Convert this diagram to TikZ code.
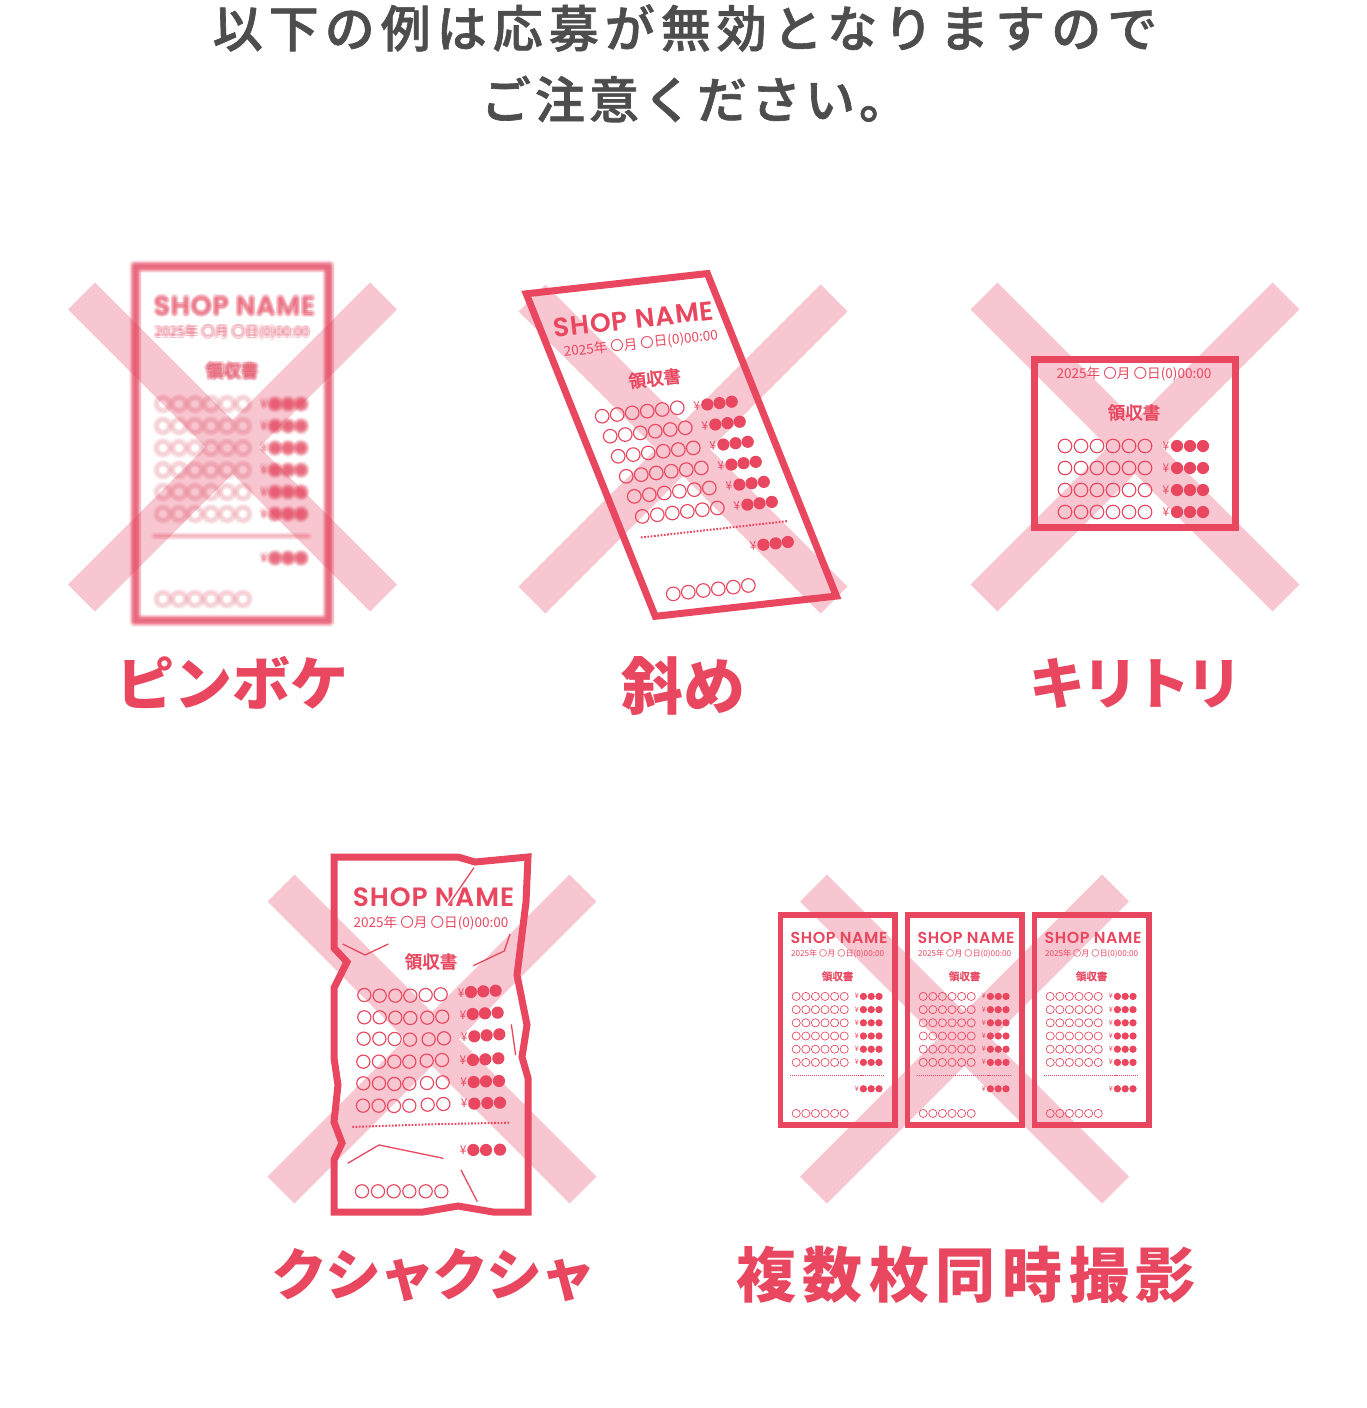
\documentclass[tikz,border=0pt]{standalone}
\usepackage{fontspec}
\setmainfont{Noto Sans CJK JP}
\newfontfamily\jp{Noto Sans CJK JP}
\newfontfamily\jpm{Noto Sans CJK JP Medium}[FakeBold=1.3]
\newfontfamily\shopf{Poppins SemiBold}
\definecolor{rred}{HTML}{E8475F}
\definecolor{xpink}{HTML}{F7C6D0}
\definecolor{tgray}{HTML}{4D4D4D}
\def\rs{1}\def\rr{0}\def\rlw{1.15}
\tikzset{
  xband/.style={draw=xpink,line width=38pt,line cap=butt},
  rbox/.style={draw=rred,line join=miter,fill=none},
  rthin/.style={draw=rred,line width=1.15pt},
  rcrease/.style={draw=rred,line width=1.3pt},
  rtext/.style={text=rred,inner sep=0pt,rotate=\rr,scale=\rs,transform shape},
  rlabel/.style={text=rred,inner sep=0pt,font=\jp\bfseries},
  headline/.style={text=tgray,inner sep=0pt},
}
\newcommand\bigx[2]{%
  \draw[xband] (#1-151,#2-151) -- (#1+151,#2+151);
  \draw[xband] (#1-151,#2+151) -- (#1+151,#2-151);}
\newcommand\rshop{\node[rtext,font=\shopf\fontsize{26.5}{26.5}\selectfont\addfontfeature{LetterSpace=3.5}] at (102.5,43) {SHOP NAME};}
\newcommand\rdate{\node[rtext,font=\jp\fontsize{13.6}{13.6}\selectfont] at (100,69.5) {2025年 〇月 〇日(0)00:00};}
\newcommand\rtitle{\node[rtext,font=\jpm\fontsize{17.5}{17.5}\selectfont] at (100,107.5) {領収書};}
\newcommand\rcircs[1]{\foreach \cx in {31,47,63,79,95,111}{\draw[draw=rred,line width=\rlw pt*\rs] (\cx,#1) circle[radius=6.8pt*\rs];}}
\newcommand\rdotsonly[1]{\foreach \cx in {143,156,169}{\fill[rred] (\cx,#1) circle[radius=6.1pt*\rs];}}
\newcommand\ryen[1]{\node[rtext,font=\jp\fontsize{12}{12}\selectfont] at (132,#1) {¥};}
\newcommand\rdots[1]{\ryen{#1}\rdotsonly{#1}}
\newcommand\rrow[1]{\rcircs{#1}\rdots{#1}}
\newcommand\rsep{\draw[rred,line width=2pt*\rs,dash pattern=on 1.7pt*\rs off 1.6pt*\rs] (21,273) -- (178,273);}
\newcommand\rcontent{%
  \rshop\rdate\rtitle
  \rrow{141}\rrow{163}\rrow{185}\rrow{207}\rrow{229}\rrow{251}
  \rsep
  \rdots{295}
  \rcircs{336}}
\begin{document}
\begin{tikzpicture}[x=1pt,y=-1pt]
\useasboundingbox[fill=white] (0,0) rectangle (1367,1408);
% headline
\node[headline,font=\jpm\fontsize{50}{50}\selectfont\addfontfeature{LetterSpace=12}] (head1) at (685,28) {以下の例は応募が無効となりますので};
\node[headline,font=\jpm\fontsize{50}{50}\selectfont\addfontfeature{LetterSpace=8}] (head2) at (695,99) {ご注意ください。};
% crosses
\bigx{232.5}{447}\bigx{683}{449}\bigx{1135}{447}\bigx{432}{1039}\bigx{964.5}{1039}
% panel 1: out of focus, shapes
\foreach \dx/\dy in {0/0,1.5/0,-1.5/0,0/1.5,0/-1.5,1.1/1.1,-1.1/1.1,1.1/-1.1,-1.1/-1.1,3/0,-3/0,0/3,0/-3,2.1/2.1,-2.1/2.1,2.1/-2.1,-2.1/-2.1}{
  \begin{scope}[shift={(132+\dx,263+\dy)},opacity=.085]
    \draw[rbox,line width=7pt] (3.5,3.5) rectangle (196.5,357.5);
    \foreach \ry in {141,163,185,207,229,251,295}{\rdotsonly{\ry}}
  \end{scope}
  \begin{scope}[shift={(132+\dx,263+\dy)},opacity=.06]
    \def\rlw{1.1}
    \foreach \ry in {141,163,185,207,229,251,336}{\rcircs{\ry}}
    \draw[rred,line width=2pt] (21,273) -- (178,273);
  \end{scope}}
% panel 1: out of focus, texts
\foreach \dx/\dy in {0/0,1.8/0,-1.8/0,0/1.8,0/-1.8,1.3/1.3,-1.3/1.3,1.3/-1.3,-1.3/-1.3}{
  \begin{scope}[shift={(132+\dx,263+\dy)},opacity=.15]
    \rshop\rdate\rtitle
    \foreach \ry in {141,163,185,207,229,251,295}{\ryen{\ry}}
  \end{scope}}
% panel 2: skewed
\begin{scope}[shift={(521.7,291)},x={(.9385pt,.105pt)},y={(.3645pt,-.911pt)}]
  \def\rr{6.4}
  \draw[rbox,line width=7pt] (3.5,3.5) -- (196.5,3.5) -- (196.5,357.5) -- (3.5,357.5) -- cycle;
  \rcontent
\end{scope}
% panel 3: cut off
\draw[rbox,line width=7pt] (1034.5,359.5) rectangle (1235.5,527.5);
\begin{scope}[shift={(1034,305)}]
  \rdate\rtitle
  \rrow{141}\rrow{163}\rrow{185}\rrow{207}
\end{scope}
% panel 4: crumpled
\draw[rbox,line width=7pt] (334,857) -- (458,857) -- (475,862) -- (528,857) -- (526,902) -- (517,975) -- (527,1025) -- (522,1057) -- (528,1078) -- (528,1212) -- (493,1212) -- (458,1206) -- (423,1212) -- (334,1212) -- (334,1160) -- (342,1143) -- (334,1122) -- (338,1085) -- (334,1058) -- (334,988) -- (347,962) -- (334,948) -- cycle;
\begin{scope}[shift={(331,854)}]
  \rshop\rdate\rtitle
\end{scope}
\begin{scope}[shift={(320,845)},x=.3333pt,y=-.3333pt]
  \foreach \px/\py in {133/450,179/452,226/452,271/452,317/450,362/448,
    133/517,179/517,226/518,271/519,322/518,367/515,
    131/581,178/581,224/582,270/584,326/583,372/580,
    130/650,177/650,223/650,268/650,320/647,366/645,
    130/715,177/715,223/717,268/716,321/714,368/712,
    129/782,176/782,222/783,268/782,323/779,370/777,
    126/1039,174/1039,221/1039,268/1039,317/1039,364/1039}
    {\draw[rthin] (\px,\py) circle[radius=6.6pt];}
  \foreach \px/\py in {453/441,490/439,527/437,458/507,495/505,533/503,
    463/574,500/571,538/568,459/645,496/643,535/640,
    461/711,498/709,537/708,463/776,502/774,540/773,
    460/915,498/915,540/914}
    {\fill[rred] (\px,\py) circle[radius=6.1pt];}
  \foreach \px/\py in {424/445,429/510,433/576,429/645,431/711,433/776,430/915}
    {\node[rtext,font=\jp\fontsize{12}{12}\selectfont] at (\px,\py) {¥};}
  \draw[rred,line width=2pt,dash pattern=on 1.7pt off 1.6pt] (97,846) -- (330,838) -- (570,833);
  \draw[white,line width=3pt] (459,68) -- (382,180);
  \draw[rcrease] (462,68) -- (385,180);
  \draw[rcrease] (68,297) -- (135,330) -- (205,297);
  \draw[rcrease] (460,362) -- (553,318) -- (570,267);
  \draw[rcrease] (574,538) -- (587,630);
  \draw[rcrease] (83,955) -- (177,900) -- (370,940);
  \draw[rcrease] (423,975) -- (472,1070);
\end{scope}
% panel 5: several at once
\def\rs{.6}
\foreach \bx in {777.6,904.6,1031.6}{
  \begin{scope}[shift={(\bx,911.8)},x=.6pt,y=-.6pt]
    \draw[rbox,line width=5.5pt] (4.6,5.4) rectangle (195.4,355.2);
    \rcontent
  \end{scope}}
\def\rs{1}
% labels
\node[rlabel,font=\jp\bfseries\fontsize{58}{58}\selectfont] (l1) at (232.5,683) {ピンボケ};
\node[rlabel,font=\jp\bfseries\fontsize{62}{62}\selectfont] (l2) at (683,686) {斜め};
\node[rlabel,font=\jp\bfseries\fontsize{56}{56}\selectfont\addfontfeature{LetterSpace=-7}] (l3) at (1136,683) {キリトリ};
\node[rlabel,font=\jp\bfseries\fontsize{56}{56}\selectfont\addfontfeature{LetterSpace=-4}] (l4) at (434,1275) {クシャクシャ};
\node[rlabel,font=\jp\bfseries\fontsize{60}{60}\selectfont\addfontfeature{LetterSpace=11}] (l5) at (966,1275) {複数枚同時撮影};
\end{tikzpicture}
\end{document}
